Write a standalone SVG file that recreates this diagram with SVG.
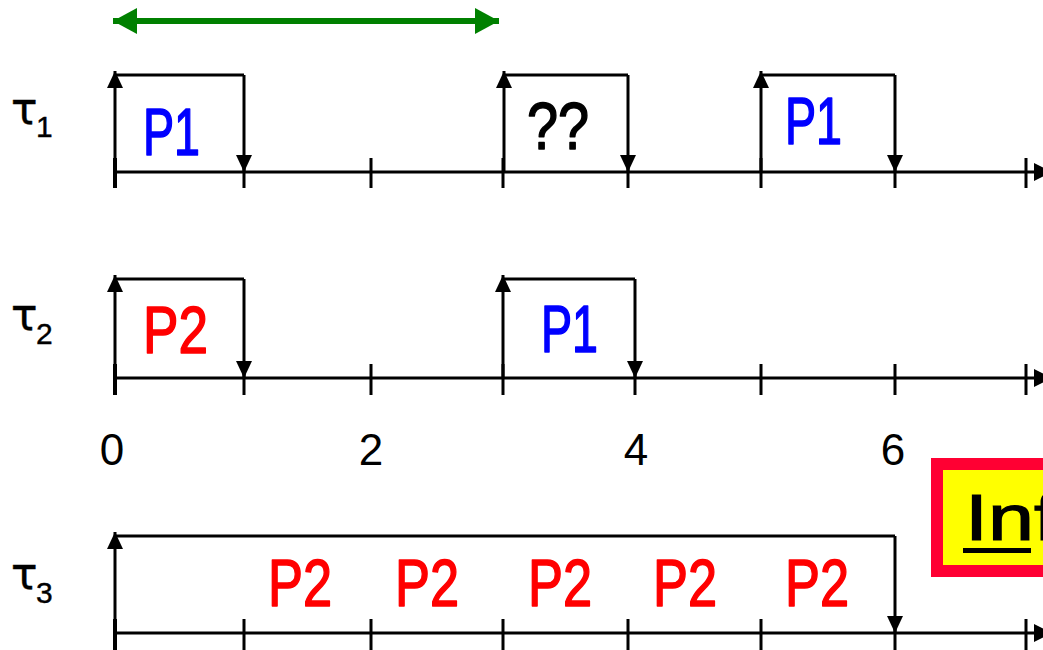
<svg xmlns="http://www.w3.org/2000/svg" width="1043" height="650" viewBox="0 0 1043 650">
  <style>
    .ln { stroke: #000; stroke-width: 3; fill: none; }
    .tick { stroke: #000; stroke-width: 3; }
    .tick0 { stroke: #000; stroke-width: 4; }
    .up { stroke: #000; stroke-width: 3; fill: none; marker-end: url(#head); }
    .down { stroke: #000; stroke-width: 3; fill: none; marker-end: url(#head); }
    .axis { stroke: #000; stroke-width: 3; fill: none; marker-end: url(#axhead); }
    .job { font-family: "Liberation Sans", Arial, sans-serif; font-size: 66px; stroke-width: 1.6; stroke-linejoin: round; }
    .p1 { fill: #0000ff; stroke: #0000ff; }
    .p2 { fill: #ff0000; stroke: #ff0000; }
    .unk { fill: #000; stroke: #000; }
    .tau { font-family: "DejaVu Sans", "Liberation Sans", sans-serif; font-size: 44px; fill: #000; stroke: #000; stroke-width: 0.4; }
    .sub { font-family: "Liberation Sans", Arial, sans-serif; font-size: 30px; fill: #000; stroke: #000; stroke-width: 0.4; }
    .num { font-family: "Liberation Sans", Arial, sans-serif; font-size: 44px; fill: #000; text-anchor: middle; }
    .note { font-family: "Liberation Sans", Arial, sans-serif; font-size: 64px; fill: #000; stroke: #000; stroke-width: 1.2; }
  </style>
  <defs>
    <marker id="head" markerUnits="userSpaceOnUse" markerWidth="18" markerHeight="16" refX="17" refY="8" orient="auto">
      <path d="M0,0 L17,8 L0,16 z" fill="#000"/>
    </marker>
    <marker id="axhead" markerUnits="userSpaceOnUse" markerWidth="18" markerHeight="18" refX="2" refY="9" orient="auto">
      <path d="M0,0 L18,9 L0,18 z" fill="#000"/>
    </marker>
    <marker id="ghead" markerUnits="userSpaceOnUse" markerWidth="26" markerHeight="26" refX="24" refY="13" orient="auto-start-reverse">
      <path d="M0,0 L24,13 L0,26 z" fill="#008000"/>
    </marker>
  </defs>

  <rect width="1043" height="650" fill="#fff"/>

  <!-- task labels -->
  <g id="task-labels">
    <g id="tau1"><text class="tau" x="11" y="124">τ</text><text class="sub" x="36" y="137">1</text></g>
    <g id="tau2"><text class="tau" x="11" y="330">τ</text><text class="sub" x="36" y="344">2</text></g>
    <g id="tau3"><text class="tau" x="11" y="589">τ</text><text class="sub" x="36" y="603">3</text></g>
  </g>

  <!-- time scale numbers -->
  <g id="time-numbers">
    <text class="num" x="112" y="465">0</text>
    <text class="num" x="371" y="465">2</text>
    <text class="num" x="636" y="465">4</text>
    <text class="num" x="893" y="465">6</text>
  </g>

  <!-- time axes with ticks -->
  <g id="axes">
    <g id="axis1">
      <line class="tick0" x1="115" y1="158" x2="115" y2="188"/>
      <path class="tick" d="M244,158V188 M371,158V188 M503,158V188 M628,158V188 M761,158V188 M895,158V188 M1026,158V188"/>
    </g>
    <g id="axis2">
      <line class="tick0" x1="115" y1="364" x2="115" y2="395"/>
      <path class="tick" d="M244,364V395 M371,364V395 M503,364V395 M635,364V395 M761,364V395 M895,364V395 M1026,364V395"/>
    </g>
    <g id="axis3">
      <line class="tick0" x1="115" y1="619" x2="115" y2="650"/>
      <path class="tick" d="M244,619V650 M371,619V650 M503,619V650 M628,619V650 M761,619V650 M895,619V650 M1026,619V650"/>
    </g>
  </g>

  <!-- job windows -->
  <g id="jobs">
    <g id="job-t1-a"><line class="ln" x1="115" y1="75" x2="244" y2="75"/><text class="job p1" x="143" y="155" textLength="57" lengthAdjust="spacingAndGlyphs">P1</text></g>
    <g id="job-t1-b"><line class="ln" x1="504" y1="75" x2="628" y2="75"/><text class="job unk" x="527" y="149" textLength="62" lengthAdjust="spacingAndGlyphs">??</text></g>
    <g id="job-t1-c"><line class="ln" x1="761" y1="75" x2="895" y2="75"/><text class="job p1" x="785" y="144" textLength="57" lengthAdjust="spacingAndGlyphs">P1</text></g>
    <g id="job-t2-a"><line class="ln" x1="115" y1="279" x2="244" y2="279"/><text class="job p2" x="143" y="353" textLength="65" lengthAdjust="spacingAndGlyphs">P2</text></g>
    <g id="job-t2-b"><line class="ln" x1="503" y1="279" x2="635" y2="279"/><text class="job p1" x="541" y="352" textLength="57" lengthAdjust="spacingAndGlyphs">P1</text></g>
    <g id="job-t3-a">
      <line class="ln" x1="115" y1="536" x2="895" y2="536"/>
      <text class="job p2" x="268" y="606" textLength="64" lengthAdjust="spacingAndGlyphs">P2</text>
      <text class="job p2" x="395" y="606" textLength="64" lengthAdjust="spacingAndGlyphs">P2</text>
      <text class="job p2" x="528" y="606" textLength="64" lengthAdjust="spacingAndGlyphs">P2</text>
      <text class="job p2" x="653" y="606" textLength="64" lengthAdjust="spacingAndGlyphs">P2</text>
      <text class="job p2" x="785" y="606" textLength="64" lengthAdjust="spacingAndGlyphs">P2</text>
    </g>
  </g>

  <!-- infeasibility note -->
  <g id="note">
    <rect x="937" y="464" width="130" height="107" fill="#ffff00" stroke="#ff0033" stroke-width="12"/>
    <text class="note" x="965" y="540" textLength="92" lengthAdjust="spacingAndGlyphs">Inf</text>
    <line x1="963" y1="550.5" x2="1031" y2="550.5" stroke="#000" stroke-width="5"/>
  </g>

  <!-- arrows: axes, releases, deadlines, period span -->
  <g id="connectors">
    <line class="axis" x1="115" y1="172" x2="1036" y2="172"/>
    <line class="axis" x1="115" y1="378" x2="1036" y2="378"/>
    <line class="axis" x1="115" y1="633" x2="1036" y2="633"/>

    <line class="up" x1="115" y1="172" x2="115" y2="71"/>
    <line class="down" x1="244" y1="75" x2="244" y2="172"/>
    <line class="up" x1="504" y1="172" x2="504" y2="71"/>
    <line class="down" x1="628" y1="75" x2="628" y2="172"/>
    <line class="up" x1="761" y1="172" x2="761" y2="71"/>
    <line class="down" x1="895" y1="75" x2="895" y2="172"/>

    <line class="up" x1="115" y1="378" x2="115" y2="275"/>
    <line class="down" x1="244" y1="279" x2="244" y2="378"/>
    <line class="up" x1="503" y1="378" x2="503" y2="275"/>
    <line class="down" x1="635" y1="279" x2="635" y2="378"/>

    <line class="up" x1="115" y1="633" x2="115" y2="532"/>
    <line class="down" x1="895" y1="536" x2="895" y2="633"/>

    <line x1="113" y1="21" x2="499" y2="21" stroke="#008000" stroke-width="6" marker-start="url(#ghead)" marker-end="url(#ghead)"/>
  </g>
</svg>
